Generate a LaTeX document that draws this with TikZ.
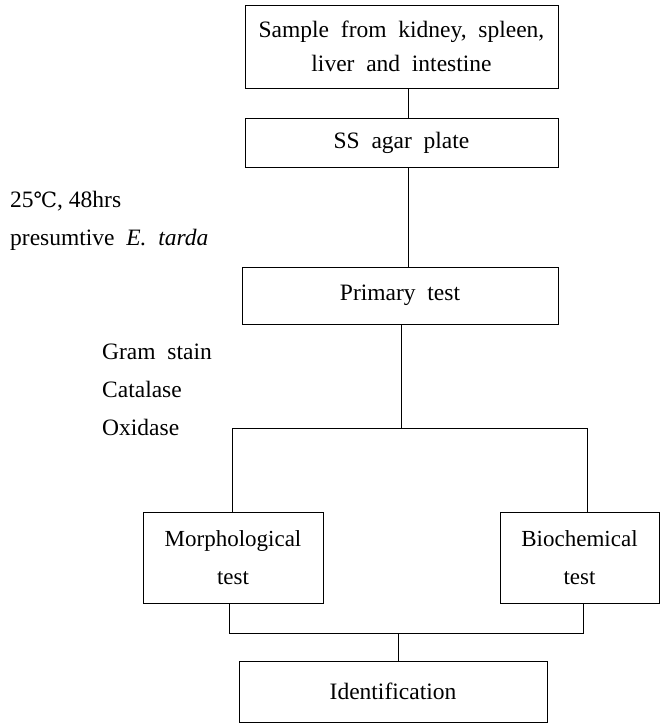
\documentclass[tikz,border=0pt]{standalone}
\usepackage{fontspec}
\setmainfont{Liberation Serif}
\newfontfamily\degfont{DejaVu Serif}
\begin{document}
\begin{tikzpicture}[x=1pt,y=-1pt,
  box/.style={draw,line width=0.9pt,inner sep=0pt,align=center,font=\fontsize{23.5}{34}\selectfont},
  lbl/.style={anchor=west,inner sep=0pt,font=\fontsize{23.5}{26}\selectfont},
  conn/.style={line width=0.9pt}]
\useasboundingbox (0,0) rectangle (660,724);
\node[box,minimum width=313,minimum height=83] (top) at (401.5,46.5) {Sample\ \ from\ \ kidney,\ \ spleen,\\liver\ \ and\ \ intestine};
\node[box,minimum width=313,minimum height=49] (ss) at (401.5,142.5) {SS\ \ agar\ \ plate};
\node[box,minimum width=316,minimum height=57] (prim) at (400,295.5) {Primary\ \ test};
\node[box,minimum width=180,minimum height=91,font=\fontsize{23}{38}\selectfont] (morph) at (233,557.5) {Morphological\\test};
\node[box,minimum width=159,minimum height=91,font=\fontsize{23}{38}\selectfont] (bio) at (579.5,557.5) {Biochemical\\test};
\node[box,minimum width=308,minimum height=61] (ident) at (393,691.5) {Identification};

\node[lbl] (t1) at (10,201) {25{\degfont\fontsize{21}{24}\selectfont ℃}, 48hrs};
\node[lbl] (t2) at (10,240) {presumtive\ \ \textit{E.\ \ tarda}};
\node[lbl] (g1) at (102,352) {Gram\ \ stain};
\node[lbl] (g2) at (102,389) {Catalase};
\node[lbl] (g3) at (102,427) {Oxidase};

\coordinate (vx) at (408,0);
\coordinate (split) at (401,428);
\coordinate (sl) at (232,428);
\coordinate (sr) at (587,428);
\coordinate (ml) at (229,633);
\coordinate (mr) at (583,633);
\coordinate (join) at (398,633);

\draw[conn] (top.south -| vx) -- (ss.north -| vx);
\draw[conn] (ss.south -| vx) -- (prim.north -| vx);
\draw[conn] (prim.south -| split) -- (split);
\draw[conn] (sl |- morph.north) -- (sl) -- (sr) -- (sr |- bio.north);
\draw[conn] (ml |- morph.south) -- (ml) -- (mr) -- (mr |- bio.south);
\draw[conn] (join) -- (join |- ident.north);
\end{tikzpicture}
\end{document}
